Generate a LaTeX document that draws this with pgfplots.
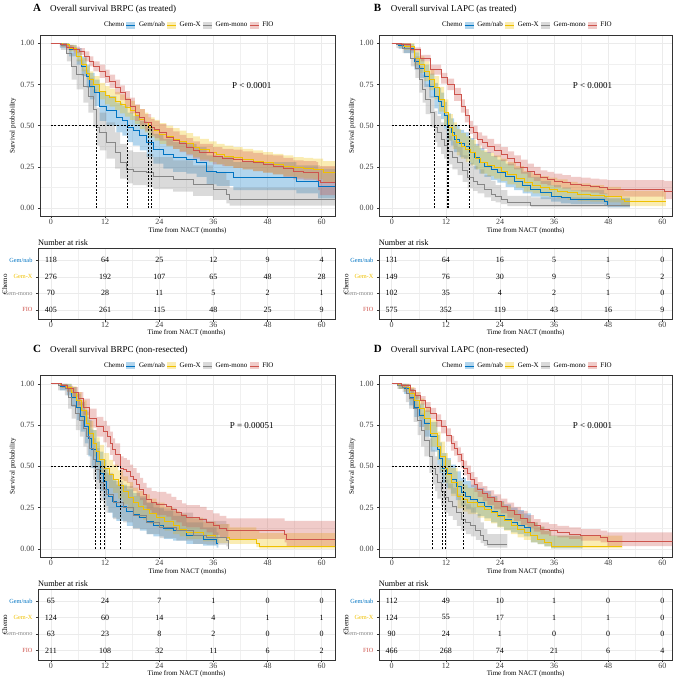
\documentclass[border=0pt]{standalone}
\usepackage{pgfplots}
\pgfplotsset{compat=1.18}
\usepackage{pgfplotstable}
\usepgfplotslibrary{fillbetween}
\usepackage{fontspec}
\setmainfont{Liberation Serif}
\definecolor{cnab}{HTML}{0073C2}
\definecolor{cx}{HTML}{EFC000}
\definecolor{cmono}{HTML}{868686}
\definecolor{cfio}{HTML}{CD534C}
\newcommand\fs[1]{\fontsize{#1}{#1}\selectfont}

% ---------------- Panel A ----------------
\pgfplotstableread{
t s l h
0 1 1 1
2.0 .99 .98 1
3.5 .975 .96 .99
5 .96 .94 .98
6.4 .95 .93 .97
7.5 .92 .89 .95
8.5 .89 .86 .92
9.4 .86 .83 .89
10.8 .83 .79 .87
12 .80 .76 .84
13 .77 .73 .81
14.2 .73 .69 .78
15.3 .70 .655 .745
16.4 .66 .615 .71
17.5 .62 .575 .67
18.6 .58 .53 .63
19.7 .55 .50 .60
20.8 .52 .47 .57
22.2 .49 .44 .54
23 .475 .425 .53
24.1 .46 .41 .51
25.6 .43 .38 .485
27.1 .41 .36 .465
28.5 .39 .34 .445
30 .37 .32 .425
31.5 .35 .30 .405
33 .336 .285 .39
35.9 .316 .265 .37
38 .305 .255 .36
40.4 .296 .245 .355
42.5 .285 .235 .345
44.8 .276 .225 .335
47 .265 .215 .325
49.2 .256 .205 .32
51.5 .24 .19 .305
53.7 .225 .175 .29
56 .22 .17 .285
58.8 .215 .165 .28
59.2 .17 .11 .26
59.6 .155 .08 .255
63.5 .155 .08 .255
}\tAfio
\pgfplotstableread{
t s l h
0 1 1 1
2.5 .99 .98 1
4 .97 .95 .99
5.7 .92 .89 .95
6.8 .87 .83 .91
7.9 .82 .78 .86
8.6 .78 .73 .83
9.4 .75 .70 .80
10.8 .71 .66 .76
12 .685 .63 .74
13 .67 .615 .725
14.2 .65 .595 .705
15.3 .63 .575 .69
16.4 .61 .555 .67
17.5 .59 .535 .65
18.6 .565 .51 .625
19.7 .54 .48 .60
20.8 .52 .46 .58
21.6 .49 .43 .55
23 .47 .41 .535
24.1 .45 .39 .515
25.6 .435 .375 .50
27.1 .42 .36 .485
28.5 .405 .345 .47
30 .39 .33 .455
31.5 .37 .31 .435
33 .356 .295 .42
35 .34 .28 .405
36.7 .326 .265 .39
38.5 .315 .255 .38
40.4 .306 .245 .37
42.5 .296 .235 .36
44.8 .286 .225 .35
47 .276 .215 .34
49.2 .266 .205 .33
51.5 .255 .195 .32
53.7 .245 .185 .31
56 .24 .18 .305
58.1 .235 .175 .30
60.3 .215 .16 .285
63.5 .215 .16 .285
}\tAx
\pgfplotstableread{
t s l h
0 1 1 1
2 .99 .97 1
4 .96 .92 .99
5.7 .92 .87 .97
6.8 .86 .80 .92
7.9 .80 .73 .87
8.6 .74 .66 .82
9.7 .70 .62 .78
10.8 .62 .53 .71
12.3 .59 .50 .68
14.5 .55 .46 .64
15.8 .53 .44 .62
17.0 .49 .40 .58
18.2 .47 .38 .56
19.7 .44 .35 .53
21.2 .40 .31 .49
22.7 .356 .27 .45
24.9 .326 .24 .42
27.1 .306 .22 .40
30 .296 .21 .39
32.3 .276 .19 .37
34.5 .225 .145 .32
36.7 .215 .135 .31
40.4 .185 .11 .28
53.7 .185 .11 .28
54.4 .16 .09 .26
59.2 .13 .06 .24
63.5 .13 .06 .24
}\tAnab
\pgfplotstableread{
t s l h
0 1 1 1
2.2 .985 .96 1
3.5 .94 .89 .99
4.6 .86 .78 .94
5.7 .81 .72 .90
7.2 .74 .64 .84
8.3 .68 .58 .79
9.4 .60 .49 .72
10.1 .49 .38 .61
10.8 .46 .35 .58
12.3 .40 .30 .52
14.2 .336 .24 .46
15.3 .276 .18 .39
16.8 .235 .15 .35
18.2 .225 .14 .34
21.2 .215 .13 .33
22.7 .195 .115 .31
27.1 .175 .10 .29
31.5 .145 .075 .26
35.9 .115 .05 .22
38.9 .085 .03 .17
39.6 .054 .015 .125
63.5 .054 .015 .125
}\tAm

% ---------------- Panel B ----------------
\pgfplotstableread{
t s l h
0 1 1 1
2 .99 .985 1
4.2 .96 .95 .975
6.4 .91 .89 .93
8.6 .84 .81 .87
10.9 .79 .755 .82
12.3 .75 .715 .785
13.8 .69 .65 .73
15.3 .62 .58 .66
16.2 .56 .52 .60
17.1 .49 .45 .53
18 .46 .42 .50
19 .42 .38 .46
20 .40 .36 .44
21.2 .376 .335 .42
22.7 .35 .31 .39
24.2 .326 .285 .37
25.7 .30 .26 .345
27.1 .276 .235 .32
28.6 .25 .21 .295
30.1 .225 .185 .27
31.5 .205 .165 .25
33 .185 .148 .23
34.5 .175 .138 .22
36 .165 .128 .21
37.8 .155 .118 .20
39.7 .145 .108 .19
42 .14 .10 .185
44.1 .135 .095 .18
46 .125 .085 .175
47.8 .115 .07 .17
60 .115 .07 .17
60.4 .10 .055 .165
63 .10 .055 .165
}\tBfio
\pgfplotstableread{
t s l h
0 1 1 1
1.5 .99 .975 1
2.7 .98 .96 1
5 .91 .865 .955
6.1 .87 .82 .92
7.2 .83 .77 .89
8.3 .78 .715 .845
9.4 .73 .66 .80
10.5 .66 .585 .735
11.6 .58 .50 .66
12.5 .49 .41 .57
13.5 .44 .36 .52
14.4 .40 .32 .48
15.3 .376 .30 .455
16.4 .355 .28 .435
17.5 .336 .26 .415
18.6 .305 .235 .38
19.7 .276 .21 .35
21.2 .26 .195 .335
22.7 .245 .18 .32
24.2 .225 .165 .30
25.6 .205 .145 .28
27.5 .18 .125 .255
29.3 .155 .10 .225
31.2 .14 .09 .21
33 .125 .075 .195
34.9 .115 .068 .185
36.7 .105 .06 .175
39 .095 .05 .16
41.2 .085 .043 .15
44 .08 .04 .14
47.1 .074 .035 .13
50.8 .054 .02 .115
51.5 .04 .012 .105
60.8 .04 .012 .105
}\tBx
\pgfplotstableread{
t s l h
0 1 1 1
1.5 .985 .965 1
2.7 .97 .94 .995
5 .89 .84 .945
6.1 .85 .79 .91
7.2 .80 .735 .87
8.3 .74 .67 .815
9.4 .68 .605 .76
10.2 .65 .57 .73
10.9 .62 .54 .70
11.6 .56 .48 .645
12.2 .49 .41 .575
13.1 .46 .38 .545
13.8 .42 .34 .505
15 .39 .31 .475
16 .376 .30 .46
17.1 .34 .265 .425
18.3 .306 .235 .39
19.4 .28 .21 .365
20.5 .256 .19 .34
22 .235 .17 .315
23.4 .215 .155 .295
25.2 .19 .13 .27
27.1 .165 .11 .245
29 .14 .09 .22
30.8 .115 .07 .19
33 .095 .055 .165
35.3 .074 .04 .14
37.5 .064 .03 .125
39.7 .054 .025 .11
47.1 .04 .015 .09
47.8 .02 .005 .06
52.8 .02 .005 .06
}\tBnab
\pgfplotstableread{
t s l h
0 1 1 1
1 .99 .97 1
2.4 .97 .94 1
4.2 .91 .86 .965
5.2 .85 .79 .92
6.1 .78 .70 .86
6.8 .72 .64 .81
7.5 .66 .57 .75
8.6 .58 .49 .68
9.4 .49 .40 .59
10.1 .46 .37 .56
10.9 .42 .33 .52
11.6 .38 .30 .48
12.3 .346 .265 .44
13.4 .31 .235 .41
14.6 .276 .20 .37
15.7 .23 .16 .32
16.8 .185 .12 .275
18 .165 .105 .255
19 .145 .09 .235
20.5 .115 .065 .20
22 .085 .045 .165
23 .07 .035 .14
24.2 .054 .025 .11
25.6 .034 .012 .075
30.8 .02 .005 .065
52.8 .02 .005 .065
}\tBm

% ---------------- Panel C ----------------
\pgfplotstableread{
t s l h
0 1 1 1
2.4 .99 .975 1
3.6 .97 .95 .99
4.9 .95 .92 .98
6 .91 .87 .95
7.2 .86 .81 .91
8.6 .79 .735 .85
10.1 .74 .68 .80
11.6 .71 .645 .775
12.4 .68 .615 .745
13.1 .64 .57 .71
13.7 .60 .53 .67
14.2 .57 .50 .64
15.3 .49 .42 .56
16.1 .48 .41 .55
16.8 .47 .40 .54
17.5 .44 .37 .51
18.2 .42 .35 .49
19 .39 .32 .46
19.7 .36 .295 .43
20.4 .33 .265 .40
21.2 .30 .235 .37
22.3 .28 .215 .35
23.4 .27 .205 .345
25.6 .26 .195 .335
26.7 .24 .175 .315
27.8 .22 .16 .295
29 .20 .14 .275
30 .19 .13 .265
33 .18 .12 .255
34.5 .16 .10 .235
35.9 .14 .085 .215
37.4 .125 .07 .20
38.9 .11 .06 .185
49.9 .11 .06 .185
51.8 .09 .04 .17
52.2 .06 .015 .17
63.5 .06 .015 .17
}\tCfio
\pgfplotstableread{
t s l h
0 1 1 1
2 .99 .975 1
3.5 .98 .955 1
4.6 .95 .91 .985
5.7 .90 .85 .95
6.8 .84 .775 .90
7.9 .76 .69 .83
8.6 .70 .625 .775
9.4 .64 .56 .72
10.1 .59 .51 .675
10.8 .54 .46 .63
11.8 .49 .41 .58
12.9 .45 .37 .54
13.8 .42 .34 .51
14.9 .385 .305 .475
16 .35 .27 .44
17.1 .315 .24 .405
18.2 .28 .21 .37
19.3 .26 .19 .35
20.4 .24 .175 .33
21.9 .215 .15 .305
23.4 .19 .13 .28
25.2 .165 .11 .255
27.1 .14 .09 .23
28.5 .12 .075 .21
30 .10 .06 .19
33.7 .08 .045 .165
36.5 .07 .035 .15
39.6 .06 .03 .13
45.5 .036 .01 .11
46.2 .016 .002 .095
63.5 .016 .002 .095
}\tCx
\pgfplotstableread{
t s l h
0 1 1 1
2 .985 .96 1
3.5 .97 .93 1
4.6 .92 .86 .98
5.7 .86 .78 .94
6.6 .80 .71 .89
7.5 .74 .64 .84
8.3 .67 .56 .78
9 .60 .49 .72
10.1 .53 .42 .65
10.85 .46 .35 .59
11.6 .41 .30 .54
12.3 .36 .26 .49
12.7 .32 .22 .45
13.6 .29 .19 .42
14.5 .26 .17 .39
16.8 .23 .14 .36
18.2 .21 .125 .34
19.7 .19 .11 .31
21.2 .165 .09 .28
22.7 .14 .075 .25
25 .125 .06 .23
27.1 .11 .05 .20
30 .08 .03 .16
33.7 .06 .02 .13
36.7 .036 .008 .10
37.1 .036 .008 .10
}\tCnab
\pgfplotstableread{
t s l h
0 1 1 1
1.6 .99 .96 1
3.1 .97 .93 1
3.8 .92 .85 .98
4.6 .87 .79 .95
5.5 .82 .72 .91
6.4 .78 .68 .88
7.2 .73 .62 .84
7.9 .68 .57 .80
8.6 .61 .49 .73
9.4 .54 .42 .67
9.9 .48 .36 .61
10.8 .40 .29 .53
11.6 .36 .25 .49
12.3 .33 .22 .46
13.8 .28 .18 .41
16 .25 .16 .38
18.2 .20 .12 .32
21.2 .16 .09 .28
24.1 .13 .065 .245
27.8 .11 .05 .22
31.5 .08 .03 .185
34.5 .07 .025 .17
38.9 .05 .015 .15
39.3 0 .015 .15
}\tCm

% ---------------- Panel D ----------------
\pgfplotstableread{
t s l h
0 1 1 1
2 .99 .985 1
4.2 .96 .945 .975
5.3 .93 .91 .95
6.4 .90 .875 .925
7.5 .86 .83 .89
8.6 .82 .785 .855
9.8 .78 .74 .815
10.9 .74 .70 .78
12 .69 .65 .73
13.1 .64 .595 .685
13.8 .61 .565 .655
14.6 .57 .525 .615
15.3 .535 .49 .58
15.9 .49 .445 .535
16.7 .46 .415 .505
17.5 .42 .375 .465
18.3 .39 .345 .435
19 .36 .315 .405
20.1 .335 .29 .38
21.2 .31 .265 .355
22.7 .285 .24 .33
24.2 .26 .215 .305
25.6 .235 .19 .28
27.1 .21 .17 .255
28.6 .185 .145 .23
30.1 .16 .125 .205
31.5 .14 .105 .18
33 .12 .088 .16
34.9 .11 .078 .15
36.7 .10 .07 .14
39.3 .09 .06 .13
41.9 .08 .05 .12
46.3 .07 .04 .11
47.8 .046 .016 .10
63 .046 .016 .10
}\tDfio
\pgfplotstableread{
t s l h
0 1 1 1
1.5 .99 .97 1
2.7 .98 .955 1
3.9 .94 .90 .98
5 .90 .85 .95
6.1 .85 .79 .91
7.2 .79 .72 .86
8.6 .70 .62 .78
10.1 .62 .54 .71
10.8 .56 .47 .65
11.75 .49 .40 .58
12.4 .45 .36 .54
13.1 .40 .32 .49
14.6 .32 .245 .41
15.7 .30 .225 .39
16.8 .28 .21 .37
19 .26 .19 .35
20.5 .24 .17 .33
22 .22 .155 .31
23.4 .195 .13 .285
24.9 .17 .11 .26
26.4 .145 .09 .235
27.9 .12 .07 .21
29.3 .10 .055 .185
30.8 .08 .04 .16
32.3 .06 .028 .135
33.8 .04 .015 .11
35.3 .016 .003 .08
51.1 .016 .003 .08
}\tDx
\pgfplotstableread{
t s l h
0 1 1 1
1.5 .99 .97 1
2.7 .97 .94 1
3.9 .92 .87 .97
5 .86 .80 .925
6.1 .81 .74 .88
7.2 .76 .68 .84
8.6 .68 .59 .77
10.1 .60 .51 .69
10.6 .55 .46 .645
11.1 .49 .40 .58
12.1 .46 .37 .55
13.1 .42 .335 .51
14.2 .38 .295 .47
15.3 .34 .26 .43
16.4 .32 .24 .41
17.5 .30 .22 .39
19 .28 .20 .37
20.5 .26 .185 .35
22 .23 .16 .32
23.4 .20 .135 .29
24.9 .18 .115 .27
26.4 .16 .10 .25
27.9 .145 .09 .235
29.3 .13 .075 .215
30.8 .08 .04 .16
32.3 .06 .028 .135
33.8 .04 .015 .11
35.3 .016 .003 .08
42.3 .016 .003 .08
}\tDnab
\pgfplotstableread{
t s l h
0 1 1 1
1.2 .99 .97 1
2.4 .98 .95 1
3.1 .94 .89 .99
3.8 .91 .85 .97
4.8 .85 .77 .93
5.7 .78 .69 .87
6.5 .72 .62 .82
7.2 .66 .56 .77
8.3 .56 .46 .67
9.0 .49 .39 .60
9.6 .45 .35 .56
10.1 .40 .305 .51
10.9 .35 .26 .46
11.6 .31 .22 .42
12.5 .285 .20 .395
13.5 .26 .175 .37
14.4 .22 .14 .33
15.3 .18 .11 .29
16.4 .16 .09 .27
17.5 .14 .075 .25
18.6 .11 .055 .21
19.7 .08 .035 .16
20.4 .05 .018 .12
21.2 .03 .008 .09
25.6 .03 .008 .09
}\tDm

\newcommand{\kmband}[3]{%
  \addplot[const plot, draw=none, forget plot, name path=#3h] table[x=t,y=h] {#1};
  \addplot[const plot, draw=none, forget plot, name path=#3l] table[x=t,y=l] {#1};
  \addplot[fill=#2, fill opacity=0.3, draw=none, forget plot] fill between[of=#3h and #3l];
}
\newcommand{\kmline}[2]{%
  \addplot[const plot, color=#2, line width=0.75pt, forget plot] table[x=t,y=s] {#1};
}
\newcommand{\legimg}[1]{%
  \addlegendimage{legend image code/.code={\path[draw=none, fill=#1, fill opacity=0.3] (0pt,-3.5pt) rectangle (9pt,3.5pt); \draw[#1, draw opacity=1, line width=0.8pt] (0pt,0pt) -- (9pt,0pt);}}}
\newcommand{\chemolegend}{%
  \addlegendimage{empty legend}\addlegendentry{Chemo}
  \legimg{cnab}\addlegendentry{Gem/nab}
  \legimg{cx}\addlegendentry{Gem-X}
  \legimg{cmono}\addlegendentry{Gem-mono}
  \legimg{cfio}\addlegendentry{FIO}
}
% #1 nab table, #2 X table, #3 mono table, #4 FIO table, #5 prefix
\newcommand{\allcurves}[5]{%
  \kmband{#1}{cnab}{#5nab}
  \kmband{#2}{cx}{#5x}
  \kmband{#3}{cmono}{#5m}
  \kmband{#4}{cfio}{#5fio}
  \kmline{#1}{cnab}
  \kmline{#2}{cx}
  \kmline{#3}{cmono}
  \kmline{#4}{cfio}
}

\pgfplotsset{
  base/.style={scale only axis, anchor=south west, tick align=outside, tick pos=left,
    major tick length=2pt, minor tick length=0pt,
    tick style={black!80, line width=0.5pt},
    axis line style={black!80, line width=0.6pt},
    grid=both, major grid style={black!8, line width=0.5pt},
    minor grid style={black!6, line width=0.35pt},
    xtick={0,12,24,36,48,60}, xticklabels={0,12,24,36,48,60},
    minor xtick={6,18,30,42,54},
    ticklabel style={font=\fs{8}, text=black!75},
    xticklabel style={inner sep=0.8pt},
    label style={font=\fs{7}, inner sep=0pt},
    xlabel={Time from NACT (months)}},
  km/.style={base, height=181.7pt, ymin=-0.05, ymax=1.05,
    ytick={0,0.25,0.5,0.75,1}, yticklabels={0.00,0.25,0.50,0.75,1.00},
    minor ytick={0.125,0.375,0.625,0.875},
    ylabel={Survival probability},
    xlabel style={at={(axis description cs:0.5,0)}, anchor=center, yshift=-14.5pt},
    ylabel style={at={(axis description cs:-0.0914,0.5)}, anchor=center},
    legend style={at={(0.5,1)}, anchor=south, yshift=5.5pt, draw=none, fill=none,
      font=\fs{7}, inner sep=0pt, legend columns=-1,
      nodes={inner sep=0.8pt},
      /tikz/every odd column/.append style={column sep=2.5pt},
      /tikz/every even column/.append style={column sep=1pt}}},
  tab/.style={base, height=71pt, ymin=0.4, ymax=4.7, ytick={1,2,3,4},
    yticklabels={{\textcolor{cfio}{FIO}},{\textcolor{cmono}{Gem-mono}},{\textcolor{cx}{Gem-X}},{\textcolor{cnab}{Gem/nab}}},
    yticklabel style={font=\fs{6.3}},
    ylabel={Chemo},
    xlabel style={at={(axis description cs:0.5,0)}, anchor=center, yshift=-13.5pt},
    ylabel style={at={(axis description cs:-0.112,0.5)}, anchor=center}},
  risk/.style={black, only marks, mark=*, mark size=0pt, mark options={draw=none,fill=none},
    nodes near coords, point meta=explicit symbolic, nodes near coords align={center},
    every node near coord/.append style={font=\fs{8}, inner sep=0pt, text=black}},
  med/.style={black, line width=0.5pt, dash pattern=on 2pt off 1.5pt, forget plot},
}

\begin{document}
\begin{tikzpicture}[x=1pt,y=1pt]
\path (0,0) rectangle (677,677);

% ===== titles =====
\node[anchor=base west, font=\fs{11}\bfseries, inner sep=0pt] at (33,665) {A};
\node[anchor=base west, font=\fs{9}, inner sep=0pt] at (50,665) {Overall survival BRPC (as treated)};
\node[anchor=base west, font=\fs{11}\bfseries, inner sep=0pt] at (374,665) {B};
\node[anchor=base west, font=\fs{9}, inner sep=0pt] at (391,665) {Overall survival LAPC (as treated)};
\node[anchor=base west, font=\fs{11}\bfseries, inner sep=0pt] at (33,324) {C};
\node[anchor=base west, font=\fs{9}, inner sep=0pt] at (50,324) {Overall survival BRPC (non-resected)};
\node[anchor=base west, font=\fs{11}\bfseries, inner sep=0pt] at (374,324) {D};
\node[anchor=base west, font=\fs{9}, inner sep=0pt] at (391,324) {Overall survival LAPC (non-resected)};

\node[anchor=base west, font=\fs{8.3}, inner sep=0pt] at (38,431.3) {Number at risk};
\node[anchor=base west, font=\fs{8.3}, inner sep=0pt] at (379,431.3) {Number at risk};
\node[anchor=base west, font=\fs{8.3}, inner sep=0pt] at (38,90.3) {Number at risk};
\node[anchor=base west, font=\fs{8.3}, inner sep=0pt] at (379,90.3) {Number at risk};

% ===== Panel A =====
\begin{axis}[km, at={(40pt,460.3pt)}, width=295.5pt, xmin=-2.44, xmax=62.98]
\chemolegend
\allcurves{\tAnab}{\tAx}{\tAm}{\tAfio}{A}
\addplot[med] coordinates {(0,0.5) (22.2,0.5)};
\addplot[med] coordinates {(10.1,0) (10.1,0.5)};
\addplot[med] coordinates {(17.0,0) (17.0,0.5)};
\addplot[med] coordinates {(21.6,0) (21.6,0.5)};
\addplot[med] coordinates {(22.2,0) (22.2,0.5)};
\node[font=\fs{9}] at (axis cs:44.5,0.745) {P < 0.0001};
\end{axis}
\begin{axis}[tab, at={(38pt,357pt)}, width=297.5pt, xmin=-2.88, xmax=62.98]
\addplot[risk] coordinates {
(0,4)[118] (12,4)[64] (24,4)[25] (36,4)[12] (48,4)[9] (60,4)[4]
(0,3)[276] (12,3)[192] (24,3)[107] (36,3)[65] (48,3)[48] (60,3)[28]
(0,2)[70] (12,2)[28] (24,2)[11] (36,2)[5] (48,2)[2] (60,2)[1]
(0,1)[405] (12,1)[261] (24,1)[115] (36,1)[48] (48,1)[25] (60,1)[9]};
\end{axis}

% ===== Panel B =====
\begin{axis}[km, at={(379.5pt,460.3pt)}, width=293.5pt, xmin=-2.84, xmax=62.2]
\chemolegend
\allcurves{\tBnab}{\tBx}{\tBm}{\tBfio}{B}
\addplot[med] coordinates {(0,0.5) (17.1,0.5)};
\addplot[med] coordinates {(9.4,0) (9.4,0.5)};
\addplot[med] coordinates {(12.2,0) (12.2,0.5)};
\addplot[med] coordinates {(12.5,0) (12.5,0.5)};
\addplot[med] coordinates {(17.1,0) (17.1,0.5)};
\node[font=\fs{9}] at (axis cs:44.5,0.745) {P < 0.0001};
\end{axis}
\begin{axis}[tab, at={(379.3pt,357pt)}, width=293.7pt, xmin=-2.84, xmax=62.2]
\addplot[risk] coordinates {
(0,4)[131] (12,4)[64] (24,4)[16] (36,4)[5] (48,4)[1] (60,4)[0]
(0,3)[149] (12,3)[76] (24,3)[30] (36,3)[9] (48,3)[5] (60,3)[2]
(0,2)[102] (12,2)[35] (24,2)[4] (36,2)[2] (48,2)[1] (60,2)[0]
(0,1)[575] (12,1)[352] (24,1)[119] (36,1)[43] (48,1)[16] (60,1)[9]};
\end{axis}

% ===== Panel C =====
\begin{axis}[km, at={(40pt,119.3pt)}, width=295.5pt, xmin=-2.44, xmax=62.98]
\chemolegend
\allcurves{\tCnab}{\tCx}{\tCm}{\tCfio}{C}
\addplot[med] coordinates {(0,0.5) (15.3,0.5)};
\addplot[med] coordinates {(9.9,0) (9.9,0.5)};
\addplot[med] coordinates {(10.85,0) (10.85,0.5)};
\addplot[med] coordinates {(11.8,0) (11.8,0.5)};
\addplot[med] coordinates {(15.3,0) (15.3,0.5)};
\node[font=\fs{9}] at (axis cs:44.5,0.745) {P = 0.00051};
\end{axis}
\begin{axis}[tab, at={(38pt,16pt)}, width=297.5pt, xmin=-2.88, xmax=62.98]
\addplot[risk] coordinates {
(0,4)[65] (12,4)[24] (24,4)[7] (36,4)[1] (48,4)[0] (60,4)[0]
(0,3)[124] (12,3)[60] (24,3)[14] (36,3)[4] (48,3)[1] (60,3)[1]
(0,2)[63] (12,2)[23] (24,2)[8] (36,2)[2] (48,2)[0] (60,2)[0]
(0,1)[211] (12,1)[108] (24,1)[32] (36,1)[11] (48,1)[6] (60,1)[2]};
\end{axis}

% ===== Panel D =====
\begin{axis}[km, at={(379.5pt,119.3pt)}, width=293.5pt, xmin=-2.84, xmax=62.2]
\chemolegend
\allcurves{\tDnab}{\tDx}{\tDm}{\tDfio}{D}
\addplot[med] coordinates {(0,0.5) (15.9,0.5)};
\addplot[med] coordinates {(9.0,0) (9.0,0.5)};
\addplot[med] coordinates {(11.1,0) (11.1,0.5)};
\addplot[med] coordinates {(11.75,0) (11.75,0.5)};
\addplot[med] coordinates {(15.9,0) (15.9,0.5)};
\node[font=\fs{9}] at (axis cs:44.5,0.745) {P < 0.0001};
\end{axis}
\begin{axis}[tab, at={(379.3pt,16pt)}, width=293.7pt, xmin=-2.84, xmax=62.2]
\addplot[risk] coordinates {
(0,4)[112] (12,4)[49] (24,4)[10] (36,4)[1] (48,4)[0] (60,4)[0]
(0,3)[124] (12,3)[55] (24,3)[17] (36,3)[1] (48,3)[1] (60,3)[0]
(0,2)[90] (12,2)[24] (24,2)[1] (36,2)[0] (48,2)[0] (60,2)[0]
(0,1)[466] (12,1)[268] (24,1)[74] (36,1)[21] (48,1)[6] (60,1)[4]};
\end{axis}
\end{tikzpicture}
\end{document}
